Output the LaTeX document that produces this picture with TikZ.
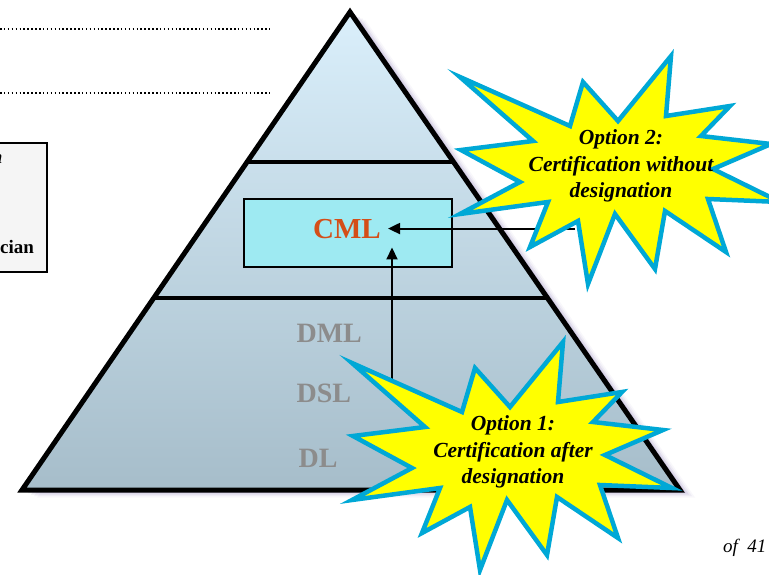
\documentclass[tikz,border=0pt]{standalone}
\usepackage{fontspec}
\setmainfont{Liberation Serif}
\usepackage{xcolor}
\usetikzlibrary{
  arrows.meta,
  calc
}

\definecolor{pyrtop}{RGB}{218,239,251}
\definecolor{pyrbot}{RGB}{166,189,202}
\definecolor{cmlfill}{RGB}{158,234,242}
\definecolor{cmlred}{RGB}{212,78,24}
\definecolor{burstblue}{RGB}{0,168,214}
\definecolor{burstyellow}{RGB}{255,255,0}
\definecolor{levelgray}{RGB}{140,140,140}
\definecolor{glow}{RGB}{120,100,170}

% 星形(中心からの相対座標)
\newcommand{\burstpath}{(-161,-89) -- (-51,-40) -- (-38,-84) -- (-3,-45)
  -- (50,-110) -- (45,-50) -- (109,-60) -- (80,-30) -- (150,-22) -- (92,3)
  -- (159,36) -- (87,33) -- (105,86) -- (44,45) -- (34,103) -- (-6,48)
  -- (-33,118) -- (-43,55) -- (-91,81) -- (-73,36) -- (-161,48) -- (-101,16)
  -- (-160,-16) -- (-88,-25) -- cycle}

\begin{document}
\begin{tikzpicture}[x=1pt,y=-1pt,
    pyramid/.style={line width=5pt, line join=miter},
    tier/.style={line width=4.5pt},
    burst/.style={fill=burstyellow, draw=burstblue, line width=4.5pt, line join=miter},
    bursttext/.style={align=center, font=\fontsize{21.5}{26.5}\selectfont\bfseries\itshape},
    level/.style={anchor=base west, text=levelgray, font=\fontsize{28}{30}\selectfont\bfseries},
    conn/.style={line width=2pt, -{Triangle[length=12pt,width=11pt]}},
    dotline/.style={line width=1.7pt, dash pattern=on 1.5pt off 2.4pt}
  ]
  \useasboundingbox (0,0) rectangle (769,574);

  % 点線
  \draw[dotline] (0,29) -- (270,29);
  \draw[dotline] (0,93) -- (270,93);

  % 左の枠
  \draw[line width=2.2pt, fill=gray!8] (-10,143) rectangle (47,272);
  \node[anchor=base east, font=\fontsize{19}{22}\selectfont\bfseries\itshape] (lefttop) at (6,163) {n};
  \node[anchor=base west, inner sep=0pt, font=\fontsize{19}{22}\selectfont\bfseries] (leftbot) at (0,253) {cian};

  % 三角形の座標
  \coordinate (apex) at (350,12);
  \coordinate (bl) at (22,490);
  \coordinate (br) at (680,490);

  % 影
  \foreach \s/\o in {3/0.24, 6/0.17, 9/0.12, 12/0.08, 15/0.05}
    \fill[glow, opacity=\o] (350+\s,12+\s/2) -- (680+\s,490+\s/2) -- (22+\s,490+\s/2) -- cycle;

  % 三角形
  \shade[top color=pyrtop, bottom color=pyrbot] (apex) -- (br) -- (bl) -- cycle;
  \draw[tier] ($(apex)!0.314!(bl)$) -- ($(apex)!0.314!(br)$);
  \draw[tier] ($(apex)!0.598!(bl)$) -- ($(apex)!0.598!(br)$);
  \draw[pyramid] (apex) -- (br) -- (bl) -- cycle;

  % CMLの枠
  \draw[line width=2.2pt, fill=cmlfill] (244,199) rectangle (452,267);
  \node[anchor=base, inner xsep=7pt, inner ysep=9pt, text=cmlred,
    font=\fontsize{29}{30}\selectfont\bfseries] (cml) at (347,238) {CML};

  % レベル
  \node[level] (dml) at (293,342) {DML};
  \node[level] (dsl) at (293,402) {DSL};
  \node[level] (dl) at (295,467) {DL};

  % 矢印
  \coordinate (opt2foot) at (575,229);
  \coordinate (opt1foot) at (392,400);
  \draw[conn] (opt2foot |- cml.east) -- (cml.east);
  \draw[conn] (opt1foot) -- (opt1foot |- cml.south);

  % 星
  \coordinate (burst1) at (513,452);
  \coordinate (burst2) at (621,166);
  \draw[burst, shift={(burst1)}] \burstpath;
  \draw[burst, shift={(burst2)}] \burstpath;
  \node[bursttext] (opt1) at (burst1) {Option 1:\\Certification after\\designation};
  \node[bursttext] (opt2) at (burst2) {Option 2:\\Certification without\\designation};

  % ページ番号
  \node[anchor=base west, inner sep=0pt, font=\fontsize{19}{22}\selectfont\itshape] (pagenum) at (723,552) {of~~41};
\end{tikzpicture}
\end{document}
